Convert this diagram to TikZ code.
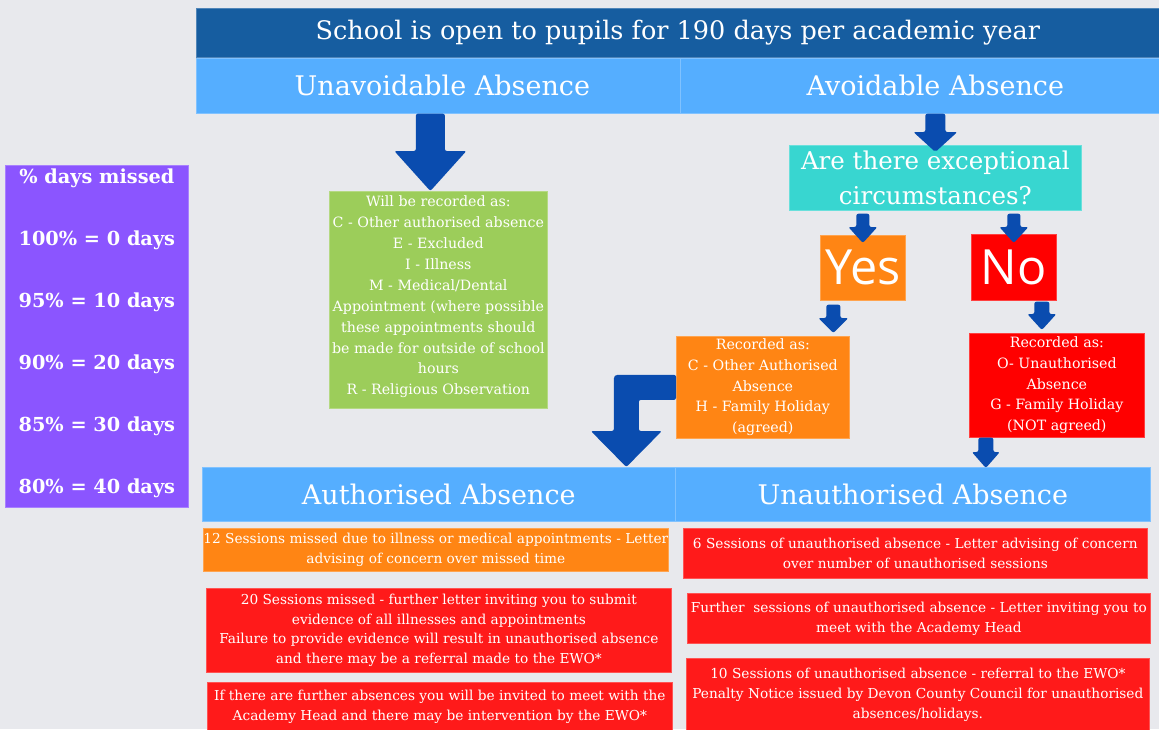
\documentclass[tikz,border=0pt]{standalone}
\usepackage{fontspec}
\setmainfont{DejaVu Serif}
\newfontfamily\yesfont{Open Sans}
\usetikzlibrary{calc}
\definecolor{bg}{HTML}{E8E9ED}
\definecolor{titleblue}{HTML}{165DA0}
\definecolor{headblue}{HTML}{55AEFF}
\definecolor{purplebox}{HTML}{8B55FF}
\definecolor{arrowblue}{HTML}{0A4CAF}
\definecolor{greenbox}{HTML}{9CCD5A}
\definecolor{cyanbox}{HTML}{38D6D0}
\definecolor{orangebox}{HTML}{FF8514}
\definecolor{redbox}{HTML}{FF0000}
\definecolor{redlight}{HTML}{FF1A1A}
\tikzset{
  box/.style={rectangle, inner sep=0pt, text=white, align=center, anchor=north west,
    fill=#1, draw=#1!75!white, line width=0.7pt},
  fs/.style 2 args={font=\fontsize{#1}{#2}\selectfont},
}
\newcommand\blockdown[5]{%
  \fill[arrowblue, rounded corners=2pt] let \p1=#1, \p2=#2 in
  (\x2-#3,\y1) -- (\x2+#3,\y1) -- (\x2+#3,\y2+#5) -- (\x2+#4,\y2+#5) -- (\x2,\y2)
  -- (\x2-#4,\y2+#5) -- (\x2-#3,\y2+#5) -- cycle;}
\begin{document}
\begin{tikzpicture}[x=1pt,y=-1pt]
\fill[bg] (0,0) rectangle (1159,729);
\useasboundingbox (0,0) rectangle (1159,729);
\begin{scope}
\clip (0,0) rectangle (1159,729);
% headers
\node[box=titleblue, minimum width=963pt, minimum height=49pt, fs={25.5}{30}] (title) at (196,8)
  {School is open to pupils for 190 days per academic year};
\node[box=headblue, minimum width=484pt, minimum height=55pt, fs={27}{32}] (unav) at (196,58)
  {\hspace*{8pt}Unavoidable Absence};
\node[box=headblue, minimum width=479pt, minimum height=55pt, fs={27}{32}] (avoid) at (680,58)
  {\hspace*{31pt}Avoidable Absence};
% purple
\node[box=purplebox, minimum width=183pt, minimum height=342pt, fs={19.3}{62}] (pct) at (5,165)
  {\bfseries \% days missed\\\bfseries 100\% = 0 days\\\bfseries 95\% = 10 days\\\bfseries 90\% = 20 days\\\bfseries 85\% = 30 days\\\bfseries 80\% = 40 days\rule[-11pt]{0pt}{1pt}};
% green
\node[box=greenbox, minimum width=218pt, minimum height=217pt, fs={14.2}{20.9}] (green) at (329,191)
  {Will be recorded as:\\C - Other authorised absence\\E - Excluded\\I - Illness\\M - Medical/Dental\\Appointment (where possible\\these appointments should\\be made for outside of school\\hours\\R - Religious Observation\vphantom{p}\rule[-9pt]{0pt}{1pt}};
% question
\node[box=cyanbox, minimum width=292pt, minimum height=65pt, fs={24.5}{35}] (cyan) at (789,145)
  {Are there exceptional\\circumstances?};
\node[box=orangebox, minimum width=85pt, minimum height=65pt, font=\yesfont\fontsize{48.5}{52}\selectfont] (yes) at (820,235) {Yes};
\node[box=redbox, minimum width=85pt, minimum height=66pt, font=\yesfont\fontsize{48.5}{52}\selectfont] (no) at (971,234) {No};
\node[box=orangebox, minimum width=173pt, minimum height=102pt, fs={14.2}{20.7}] (recY) at (676,336)
  {Recorded as:\\C - Other Authorised\\Absence\\H - Family Holiday\\(agreed)};
\node[box=redbox, minimum width=175pt, minimum height=104pt, fs={14.2}{20.7}] (recN) at (969,333)
  {Recorded as:\\O- Unauthorised\\Absence\\G - Family Holiday\\(NOT agreed)};
% lower headers
\node[box=headblue, minimum width=473pt, minimum height=54pt, fs={27}{32}] (auth) at (202,467)
  {Authorised Absence};
\node[box=headblue, minimum width=475pt, minimum height=54pt, fs={27}{32}] (unauth) at (675,467)
  {Unauthorised Absence};
% bottom boxes
\node[box=orangebox, minimum width=465pt, minimum height=43pt, fs={13.7}{20}] (oA) at (203,528)
  {12 Sessions missed due to illness or medical appointments - Letter\\advising of concern over missed time};
\node[box=redlight, minimum width=465pt, minimum height=84pt, fs={13.7}{19.8}] (rA1) at (206,588)
  {20 Sessions missed - further letter inviting you to submit\\evidence of all illnesses and appointments\\Failure to provide evidence will result in unauthorised absence\\and there may be a referral made to the EWO*};
\node[box=redlight, minimum width=465pt, minimum height=49pt, fs={13.7}{20}] (rA2) at (207,682)
  {If there are further absences you will be invited to meet with the\\Academy Head and there may be intervention by the EWO*};
\node[box=redlight, minimum width=464pt, minimum height=50pt, fs={13.7}{20}] (rU1) at (683,528)
  {6 Sessions of unauthorised absence - Letter advising of concern\\over number of unauthorised sessions};
\node[box=redlight, minimum width=463pt, minimum height=50pt, fs={13.7}{20}] (rU2) at (687,593)
  {Further\ \ sessions of unauthorised absence - Letter inviting you to\\meet with the Academy Head};
\node[box=redlight, minimum width=463pt, minimum height=73pt, fs={13.7}{20}] (rU3) at (686,658)
  {10 Sessions of unauthorised absence - referral to the EWO*\\Penalty Notice issued by Devon County Council for unauthorised\\absences/holidays.};
% arrows
\blockdown{(unav.south)}{($(green.north)+(-8,0)$)}{14.5pt}{36pt}{40pt}
\blockdown{(avoid.south)}{($(cyan.north)+(0,7)$)}{10pt}{22pt}{20pt}
\blockdown{($(cyan.south)+(0,3)$)}{($(yes.north)+(0,8)$)}{6.5pt}{14.5pt}{16pt}
\blockdown{($(cyan.south)+(0,3)$)}{($(no.north)+(0,9)$)}{6.5pt}{14.5pt}{16pt}
\blockdown{($(yes.south)+(0,4)$)}{($(recY.north)+(70.5,-3)$)}{7pt}{15pt}{15pt}
\blockdown{($(no.south)+(0,1)$)}{($(recN.north)+(-15,-3)$)}{7.5pt}{14.5pt}{16pt}
\blockdown{(recN.south)}{($(unauth.north)+(73,1)$)}{7.5pt}{14pt}{16pt}
% bent arrow
\fill[arrowblue, rounded corners=2pt] let \p1=(recY.west), \p2=($(auth.north)+(187.5,0)$) in
  (\x1,\y1+12.5pt) -- (\x2-2.5pt,\y1+12.5pt) .. controls (\x2-12.5pt,\y1+12.5pt) .. (\x2-12.5pt,\y1+2.5pt)
  -- (\x2-12.5pt,\y2+36pt) -- (\x2-35.5pt,\y2+36pt) -- (\x2,\y2) -- (\x2+35.5pt,\y2+36pt)
  -- (\x2+12.5pt,\y2+36pt) -- (\x2+12.5pt,\y1-12.5pt) -- (\x1,\y1-12.5pt) -- cycle;
\end{scope}
\end{tikzpicture}
\end{document}
